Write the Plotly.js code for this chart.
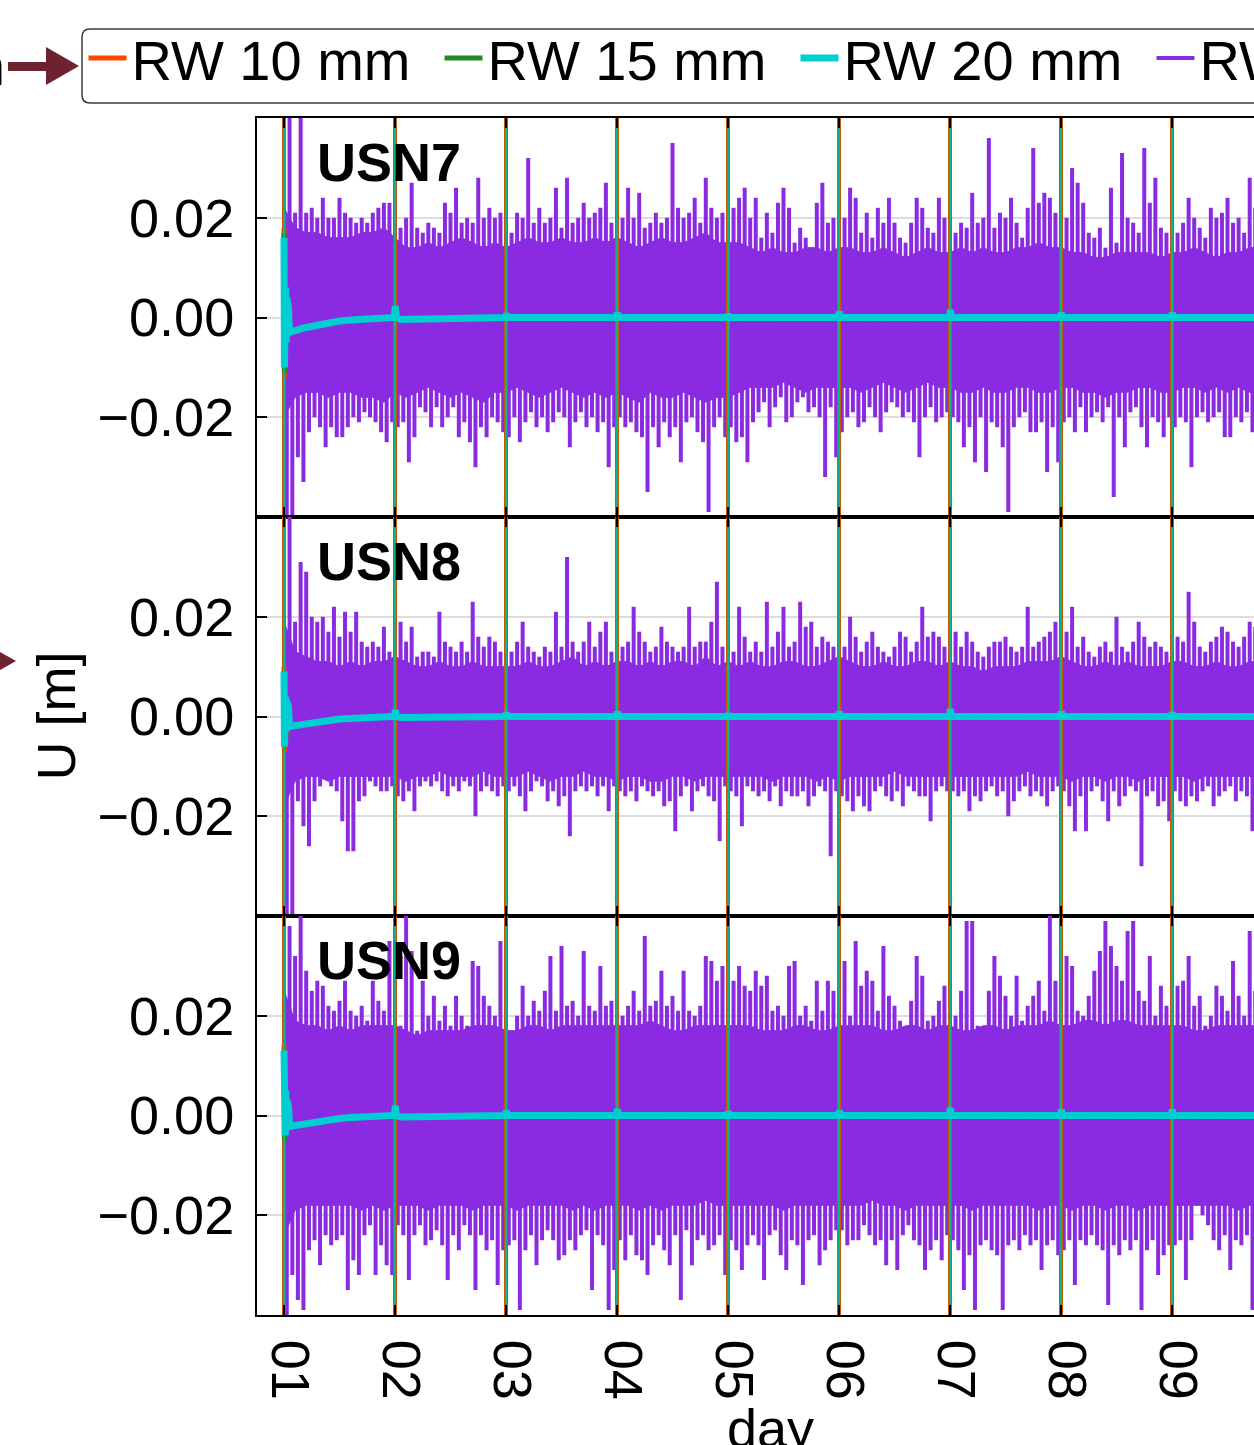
<!DOCTYPE html>
<html><head><meta charset="utf-8">
<script src="https://cdn.plot.ly/plotly-3.0.1.min.js"></script>
<style>
html,body{margin:0;padding:0;overflow:hidden;background:#fff;width:1254px;height:1445px}
#chart{width:1800px;height:1445px}
</style>
</head><body><div id="chart"></div>
<script>
// ---------------- data ----------------
const seriesNames = ['RW 10 mm', 'RW 15 mm', 'RW 20 mm', 'RW 25 mm'];
const stations = ['USN7', 'USN8', 'USN9'];
const dayTicks = [1, 2, 3, 4, 5, 6, 7, 8, 9];
const dayTickText = ['01', '02', '03', '04', '05', '06', '07', '08', '09'];
const yTicks = [-0.02, 0, 0.02];
const yTickText = ['\u22120.02', '0.00', '0.02'];
const spikeStart = 1.0, spikeStep = 0.05;  // sampling of the RW 25 mm spike extremes (days)
const bodyStart = 1.0, bodyStep = 0.1;     // sampling of the RW 25 mm dense body edge (days)

// RW 25 mm: largest upward / downward excursion per 0.05-day sample (mm)
const up7 = [45,42,21,40,21,22,20,24,20,20,24,21,20,19,20,19,21,22,23,23,
  20,18,20,27,18,17,19,18,17,23,21,26,19,20,19,28,20,22,20,21,
  18,17,21,20,32,19,22,19,20,26,18,28,19,20,23,20,21,22,27,19,
  19,20,26,20,25,18,19,21,19,20,35,22,20,21,24,19,28,22,20,21,
  19,22,24,26,20,24,16,21,17,23,26,22,15,18,16,14,23,27,19,20,
  18,20,26,24,17,21,16,22,19,24,19,16,15,19,24,22,18,17,24,20,
  20,17,19,18,25,19,20,36,18,21,20,24,19,16,22,34,23,25,24,21,
  22,20,30,27,23,17,16,18,14,26,15,33,20,19,17,34,23,28,18,17,
  20,17,19,24,20,18,16,22,20,21,24,19,20,17,28,22];
const lo7 = [-45,-40,-28,-33,-23,-20,-22,-26,-22,-24,-24,-22,-20,-21,-19,-20,-21,-23,-25,-21,
  -22,-21,-29,-24,-18,-19,-22,-18,-22,-20,-18,-24,-21,-25,-30,-22,-24,-20,-21,-23,
  -24,-20,-25,-21,-19,-22,-20,-23,-21,-19,-20,-26,-21,-19,-22,-20,-23,-21,-30,-22,
  -20,-22,-21,-23,-24,-35,-22,-26,-21,-24,-22,-29,-21,-20,-23,-25,-39,-22,-20,-24,
  -22,-25,-24,-29,-21,-19,-17,-22,-18,-16,-21,-20,-17,-16,-19,-18,-20,-32,-18,-28,
  -23,-20,-19,-22,-21,-18,-20,-23,-19,-17,-18,-20,-19,-21,-28,-20,-18,-21,-20,-19,
  -20,-21,-26,-22,-29,-20,-31,-21,-22,-26,-39,-22,-20,-19,-23,-23,-21,-31,-22,-29,
  -21,-20,-23,-18,-23,-20,-19,-21,-18,-36,-20,-26,-19,-18,-22,-26,-20,-21,-24,-20,
  -22,-20,-21,-30,-20,-19,-21,-20,-19,-24,-24,-20,-21,-19,-23,-21];
const up8 = [45,40,19,31,29,20,19,20,17,22,16,21,17,21,15,14,15,14,18,13,
  17,19,15,18,12,13,13,12,21,15,14,13,15,13,23,16,14,16,15,13,
  14,13,15,19,14,13,12,14,13,21,14,32,15,13,15,19,14,17,19,13,
  16,14,15,22,17,15,13,14,18,15,14,13,14,22,14,15,15,19,27,14,
  14,13,22,16,13,15,13,23,14,17,22,14,15,23,18,19,14,16,15,14,
  15,14,20,16,13,15,17,14,13,12,14,17,16,13,15,22,16,17,16,14,
  33,17,14,17,15,13,12,14,15,15,16,14,13,14,22,14,15,16,17,19,
  16,17,22,14,16,13,12,14,15,13,20,14,13,15,19,16,14,15,14,13,
  14,16,15,25,19,14,13,15,16,18,17,15,14,16,19,18];
const lo8 = [-45,-42,-17,-22,-26,-17,-14,-12,-14,-15,-21,-27,-27,-17,-16,-13,-14,-15,-15,-14,
  -16,-17,-15,-19,-14,-13,-14,-13,-15,-16,-14,-15,-13,-14,-20,-15,-14,-15,-16,-14,
  -15,-14,-16,-19,-15,-13,-14,-17,-15,-18,-16,-24,-15,-14,-15,-14,-16,-14,-19,-14,
  -15,-16,-15,-17,-14,-15,-16,-15,-18,-17,-23,-16,-14,-19,-15,-14,-16,-17,-25,-14,
  -15,-16,-22,-14,-15,-16,-15,-17,-14,-18,-15,-16,-16,-15,-18,-16,-14,-15,-28,-15,
  -16,-17,-19,-16,-18,-19,-15,-14,-16,-17,-15,-18,-14,-15,-16,-16,-21,-15,-14,-15,
  -15,-16,-15,-19,-16,-17,-15,-14,-16,-15,-20,-17,-15,-14,-16,-15,-16,-18,-15,-14,
  -15,-18,-23,-16,-23,-15,-14,-17,-21,-15,-18,-16,-14,-15,-30,-16,-15,-18,-17,-21,
  -15,-17,-18,-16,-17,-15,-14,-18,-16,-15,-14,-17,-15,-16,-23,-15];
const up9 = [45,38,32,40,29,25,27,26,22,21,23,27,21,20,22,19,27,23,21,35,
  23,18,40,33,17,27,20,24,19,22,18,24,20,18,31,30,24,22,20,35,
  18,17,20,26,20,23,21,25,32,21,34,22,23,20,33,22,21,30,22,23,
  35,20,22,25,21,36,22,23,29,22,24,21,29,21,20,22,32,31,27,30,
  29,27,30,26,25,29,26,28,21,22,20,30,31,20,22,19,27,21,27,25,
  22,31,20,35,26,29,27,21,34,24,22,19,17,23,32,28,19,20,23,26,
  30,20,25,39,39,18,16,25,32,28,24,20,28,19,22,24,27,21,40,27,
  22,32,30,21,20,24,29,33,39,34,30,27,37,39,25,23,32,20,26,22,
  23,26,27,32,22,24,18,20,26,24,21,31,24,20,37,25];
const lo9 = [-45,-32,-37,-39,-27,-25,-30,-24,-26,-25,-24,-35,-29,-32,-24,-22,-32,-26,-30,-32,
  -22,-24,-33,-24,-22,-26,-25,-23,-26,-33,-24,-27,-22,-24,-35,-24,-27,-25,-34,-27,
  -26,-25,-39,-27,-24,-30,-25,-23,-25,-29,-28,-25,-27,-24,-23,-35,-24,-26,-39,-31,
  -25,-29,-24,-28,-29,-32,-26,-24,-27,-30,-24,-37,-23,-30,-25,-24,-27,-26,-24,-32,
  -25,-27,-31,-26,-24,-26,-33,-24,-23,-28,-31,-25,-26,-34,-25,-24,-30,-27,-25,-23,
  -23,-26,-25,-25,-22,-24,-26,-25,-30,-25,-31,-24,-22,-25,-26,-31,-27,-25,-29,-24,
  -25,-27,-35,-28,-39,-26,-25,-27,-28,-39,-26,-25,-27,-24,-26,-25,-31,-26,-25,-28,
  -27,-25,-34,-25,-26,-24,-26,-27,-38,-26,-28,-25,-27,-25,-39,-27,-25,-32,-28,-26,
  -26,-25,-33,-25,-18,-20,-22,-25,-27,-24,-31,-25,-26,-24,-39,-26];

// RW 25 mm: edge of the dense (solid) part of the scatter per 0.1-day sample (mm)
const body7Up = [22,18,17,17,16,16,16,17,17,18, 16,14,14,15,14,15,16,15,14,15, 14,15,16,15,15,16,15,15,16,15,
  16,15,14,15,16,15,15,16,17,15, 15,15,14,13,14,13,13,14,14,13, 14,14,13,13,14,13,12,13,14,13,
  13,14,13,14,13,13,14,14,15,14, 14,13,13,12,12,13,13,13,13,12, 13,13,14,13,12,13,13,14,14];
const body7Lo = [-20,-16,-15,-15,-16,-15,-15,-16,-16,-17, -15,-16,-15,-14,-15,-16,-15,-16,-17,-15, -15,-14,-15,-16,-15,-14,-15,-16,-15,-16,
  -15,-16,-17,-15,-16,-16,-15,-16,-17,-16, -16,-15,-14,-14,-14,-13,-14,-15,-14,-14, -14,-14,-15,-14,-13,-14,-15,-14,-13,-14,
  -14,-15,-15,-14,-15,-15,-14,-14,-15,-15, -14,-14,-15,-15,-16,-15,-15,-14,-14,-15, -15,-14,-14,-15,-14,-15,-14,-15,-15];
const body8Up = [19,13,12,11,11,10,11,10,11,11, 12,11,10,10,11,10,10,11,10,10, 10,10,11,10,10,11,12,10,11,10,
  11,11,10,11,10,11,11,10,12,10, 11,10,11,10,10,11,11,10,10,11, 12,11,10,10,11,10,10,11,11,10,
  11,10,10,9,10,10,10,11,11,11, 12,11,10,10,11,10,11,10,10,10, 11,11,10,10,11,10,10,11,11];
const body8Lo = [-18,-13,-12,-12,-13,-12,-12,-12,-12,-12, -12,-13,-12,-12,-11,-12,-12,-12,-11,-12, -12,-12,-11,-12,-13,-12,-12,-11,-12,-12,
  -13,-12,-12,-13,-13,-12,-12,-13,-12,-12, -12,-12,-12,-12,-13,-12,-12,-12,-13,-12, -13,-12,-12,-12,-12,-11,-12,-12,-12,-12,
  -12,-12,-12,-12,-12,-12,-12,-11,-12,-12, -12,-13,-12,-12,-13,-12,-12,-13,-12,-12, -12,-12,-13,-12,-12,-12,-12,-12,-13];
const body9Up = [25,19,18,18,17,18,17,18,18,18, 18,17,16,17,17,17,17,18,18,18, 17,17,18,18,17,18,18,18,18,18,
  18,18,18,19,18,17,17,18,18,18, 18,18,18,17,17,17,18,18,17,17, 18,18,18,18,17,17,18,18,17,18,
  18,17,17,18,18,17,18,18,18,19, 18,18,19,19,18,19,19,18,18,18, 18,18,17,17,18,18,18,18,18];
const body9Lo = [-24,-19,-18,-18,-18,-18,-18,-19,-18,-19, -18,-18,-18,-19,-18,-18,-18,-19,-18,-18, -18,-19,-18,-18,-18,-18,-19,-18,-19,-18,
  -18,-18,-19,-18,-19,-18,-18,-18,-17,-18, -18,-18,-18,-18,-18,-19,-18,-18,-18,-18, -18,-18,-18,-17,-18,-18,-19,-18,-18,-18,
  -18,-18,-19,-18,-18,-18,-18,-18,-19,-18, -18,-19,-18,-18,-19,-18,-18,-19,-18,-18, -18,-18,-18,-18,-18,-18,-19,-18,-19];

// RW 20 mm: knots of the solution (days, mm)
const cyanX = [1.000,1.004,1.008,1.012,1.016,1.020,1.026,1.032,1.040,1.05,1.10,1.15,1.20,1.30,1.40,1.50,1.60,1.75,1.90,
  1.995,2.003,2.012,2.05,2.30,2.60, 2.995,3.003,3.012, 3.995,4.003,4.012, 4.995,5.003,5.012,
  5.995,6.003,6.012, 6.995,7.003,7.012, 7.995,8.003,8.012, 8.995,9.003,9.012, 9.9];
const cyan7 = [16,-10,9,-8,6,-5,4,-4,2,-3,-2.5,-2.3,-2,-1.5,-1.1,-0.7,-0.5,-0.2,0,
  0,2.3,0,-0.4,-0.3,0, 0,0.8,0, 0,1,0, 0,0.7,0, 0,1.2,0, 0,1.5,0, 0,1,0, 0,1,0, 0];
const cyan8 = [9,-6,6,-5,4,-3,3,-3,2,-2,-1.8,-1.7,-1.5,-1.1,-0.8,-0.5,-0.4,-0.2,0,
  0,1.3,0,-0.2,-0.2,0, 0,0.8,0, 0,1,0, 0,0.6,0, 0,1,0, 0,1.5,0, 0,1,0, 0,0.8,0, 0];
const cyan9 = [13,-4,8,-4,5,-3,3,-3,2,-2.2,-2,-1.8,-1.6,-1.2,-0.9,-0.6,-0.4,-0.2,0,
  0,2,0,-0.3,-0.2,0, 0,1,0, 0,1.3,0, 0,0.8,0, 0,1,0, 0,1.5,0, 0,1.2,0, 0,1.2,0, 0];

// RW 10 mm / RW 15 mm: knots (days, mm), nearly identical to RW 20 mm
const rwX = [1.000,1.004,1.008,1.012,1.020,1.05,1.20,1.50,1.90,9.9];
const rw10_7 = [18,-12,8,-6,-4,-3,-2,-0.7,0,0];
const rw15_7 = [17,-11,8,-7,-4,-3,-2,-0.7,0,0];
const rw10_8 = [10,-7,6,-5,-3,-2,-1.5,-0.5,0,0];
const rw15_8 = [9,-6,6,-5,-3,-2,-1.5,-0.5,0,0];
const rw10_9 = [14,-5,8,-4,-3,-2.2,-1.6,-0.6,0,0];
const rw15_9 = [13,-5,8,-4,-3,-2.2,-1.6,-0.6,0,0];

// filter re-initialisation at the start of each day (mm, beyond the axis range)
const resetDays = [1, 2, 3, 4, 5, 6, 7, 8, 9];
const resetSpan = [-60, 60];

// ---------------- styles / geometry ----------------
const COL = {rw10: '#FF4500', rw15: '#228B22', rw20: '#00CED1', rw25: '#8A2BE2'};
const FONT = 'Liberation Sans, Arial, Helvetica, sans-serif';
const L = 257, T = 118, PW = 1400, PH = 1197, W = 1800, H = 1445;
const DAYPX = 111, DAY1PX = 284;                     // day spacing and position of day 01
const xStart = 1 - (DAY1PX - L) / DAYPX, xEnd = 1 + (L + PW - DAY1PX) / DAYPX;
const px2x = px => (px - L) / PW;
const px2y = py => (T + PH - py) / PH;
const mm = v => v / 1000;

const panels = [
  {name: stations[0], up: up7, lo: lo7, bu: body7Up, bl: body7Lo, cyan: cyan7, r10: rw10_7, r15: rw15_7, xa: 'x', ya: 'y'},
  {name: stations[1], up: up8, lo: lo8, bu: body8Up, bl: body8Lo, cyan: cyan8, r10: rw10_8, r15: rw15_8, xa: 'x2', ya: 'y2'},
  {name: stations[2], up: up9, lo: lo9, bu: body9Up, bl: body9Lo, cyan: cyan9, r10: rw10_9, r15: rw15_9, xa: 'x3', ya: 'y3'}
];

const traces = [];
panels.forEach((p, k) => {
  const first = k === 0;
  // dense body as a filled polygon
  const bx = [], by = [];
  p.bu.forEach((v, i) => { bx.push(bodyStart + i * bodyStep); by.push(mm(v)); });
  for (let i = p.bl.length - 1; i >= 0; i--) { bx.push(bodyStart + i * bodyStep); by.push(mm(p.bl[i])); }
  traces.push({x: bx, y: by, xaxis: p.xa, yaxis: p.ya, type: 'scatter', mode: 'lines', fill: 'toself',
    fillcolor: COL.rw25, line: {width: 1, color: COL.rw25}, showlegend: false, hoverinfo: 'skip'});
  // spikes
  const sx = [], sy = [];
  p.up.forEach((v, i) => {
    const t = spikeStart + i * spikeStep;
    sx.push(t, t, null, t + spikeStep / 2, t + spikeStep / 2, null);
    sy.push(0, mm(v), null, 0, mm(p.lo[i]), null);
  });
  traces.push({x: sx, y: sy, xaxis: p.xa, yaxis: p.ya, type: 'scatter', mode: 'lines', name: seriesNames[3],
    line: {color: COL.rw25, width: 4}, legendgroup: 'rw25', legendrank: 4, showlegend: first, hoverinfo: 'skip'});
  // resets
  const rx = [], ry = [];
  resetDays.forEach(d => { rx.push(d, d, null); ry.push(mm(resetSpan[0]), mm(resetSpan[1]), null); });
  traces.push({x: rx, y: ry, xaxis: p.xa, yaxis: p.ya, type: 'scatter', mode: 'lines', line: {color: COL.rw25, width: 2, dash: '4px,2px'},
    legendgroup: 'rw25', showlegend: false, hoverinfo: 'skip'});
  // RW 10 / 15 / 20
  [[p.r10, rwX, COL.rw10, 0, 5, 4], [p.r15, rwX, COL.rw15, 1, 5, 2.5], [p.cyan, cyanX, COL.rw20, 2, 7, 1.2]].forEach(s => {
    const [vals, xs, col, idx, w, rw] = s;
    traces.push({x: xs, y: vals.map(mm), xaxis: p.xa, yaxis: p.ya, type: 'scatter', mode: 'lines', name: seriesNames[idx],
      line: {color: col, width: w}, legendgroup: 'g' + idx, legendrank: idx + 1, showlegend: first, hoverinfo: 'skip'});
    traces.push({x: rx, y: ry, xaxis: p.xa, yaxis: p.ya, type: 'scatter', mode: 'lines', line: {color: col, width: rw},
      legendgroup: 'g' + idx, showlegend: false, hoverinfo: 'skip'});
  });
});

// ---------------- layout ----------------
const GRID = 'rgba(120,120,120,0.25)';
const xCommon = {range: [xStart, xEnd], tickvals: dayTicks, ticktext: dayTickText, ticks: 'inside', ticklen: 10, tickwidth: 2,
  tickcolor: '#000', showline: true, linecolor: '#000', linewidth: 2, mirror: 'ticks', showgrid: true, gridcolor: GRID,
  gridwidth: 2, zeroline: false, showticklabels: false, layer: 'above traces', tickfont: {family: FONT, size: 54, color: '#000'}};
const yCommon = {range: [-0.04, 0.04], tickvals: yTicks, ticktext: yTickText, ticks: 'inside', ticklen: 10, tickwidth: 2,
  tickcolor: '#000', showline: true, linecolor: '#000', linewidth: 2, mirror: 'ticks', showgrid: true, gridcolor: GRID,
  gridwidth: 2, zeroline: false, layer: 'above traces', ticklabelstandoff: 10, tickfont: {family: FONT, size: 54, color: '#000'}};

// rounded legend frame (matplotlib style), px coordinates
const fr = {x0: 82, x1: 1720, y0: 29, y1: 103, r: 8};
const framePath = `M${px2x(fr.x0 + fr.r)},${px2y(fr.y0)} L${px2x(fr.x1 - fr.r)},${px2y(fr.y0)} Q${px2x(fr.x1)},${px2y(fr.y0)} ${px2x(fr.x1)},${px2y(fr.y0 + fr.r)} ` +
  `L${px2x(fr.x1)},${px2y(fr.y1 - fr.r)} Q${px2x(fr.x1)},${px2y(fr.y1)} ${px2x(fr.x1 - fr.r)},${px2y(fr.y1)} ` +
  `L${px2x(fr.x0 + fr.r)},${px2y(fr.y1)} Q${px2x(fr.x0)},${px2y(fr.y1)} ${px2x(fr.x0)},${px2y(fr.y1 - fr.r)} ` +
  `L${px2x(fr.x0)},${px2y(fr.y0 + fr.r)} Q${px2x(fr.x0)},${px2y(fr.y0)} ${px2x(fr.x0 + fr.r)},${px2y(fr.y0)} Z`;

const layout = {
  width: W, height: H, margin: {l: L, r: W - L - PW, t: T, b: H - T - PH, autoexpand: false},
  paper_bgcolor: '#fff', plot_bgcolor: '#fff',
  font: {family: FONT, size: 54, color: '#000'},
  showlegend: true,
  legend: {orientation: 'h', x: px2x(83.5), xanchor: 'left', y: px2y(15), yanchor: 'top', borderwidth: 0,
    bgcolor: 'rgba(0,0,0,0)', font: {family: FONT, size: 56, color: '#000'}, itemwidth: 38, entrywidth: 303, entrywidthmode: 'pixels',
    traceorder: 'normal'},
  xaxis: Object.assign({}, xCommon, {anchor: 'y'}),
  xaxis2: Object.assign({}, xCommon, {anchor: 'y2', matches: 'x'}),
  xaxis3: Object.assign({}, xCommon, {anchor: 'y3', matches: 'x', showticklabels: true, tickangle: 90, ticklabelstandoff: 12,
    ticklabelshift: 6}),
  yaxis: Object.assign({}, yCommon, {domain: [2 / 3, 1], anchor: 'x'}),
  yaxis2: Object.assign({}, yCommon, {domain: [1 / 3, 2 / 3], anchor: 'x2'}),
  yaxis3: Object.assign({}, yCommon, {domain: [0, 1 / 3], anchor: 'x3'}),
  annotations: panels.map(p => ({text: '<b>' + p.name + '</b>', xref: p.xa + ' domain', yref: p.ya + ' domain', x: px2x(315),
    y: 1, xanchor: 'left', yanchor: 'top', yshift: -12, showarrow: false, font: {family: FONT, size: 54, color: '#000'}}))
    .concat([
      {text: 'U [m]', xref: 'paper', yref: 'y2 domain', x: px2x(55), y: 0.5, xanchor: 'center', yanchor: 'middle', textangle: -90,
        showarrow: false, font: {family: FONT, size: 54, color: '#000'}},
      {text: 'day', xref: 'paper', yref: 'paper', x: px2x(770), y: px2y(1396), xanchor: 'center', yanchor: 'top',
        showarrow: false, font: {family: FONT, size: 54, color: '#000'}},
      {text: 'm', xref: 'paper', yref: 'paper', x: px2x(7), y: px2y(66), xanchor: 'right', yanchor: 'middle',
        showarrow: false, font: {family: FONT, size: 54, color: '#000'}}
    ]),
  shapes: [
    {type: 'path', xref: 'paper', yref: 'paper', layer: 'below', fillcolor: '#fff', line: {width: 1.5, color: '#3a3a3a'}, path: framePath},
    {type: 'path', xref: 'paper', yref: 'paper', layer: 'above', fillcolor: '#6e2230', line: {width: 0},
      path: `M${px2x(8)},${px2y(62)} L${px2x(46)},${px2y(62)} L${px2x(46)},${px2y(47)} L${px2x(79)},${px2y(66)} L${px2x(46)},${px2y(85)} L${px2x(46)},${px2y(71)} L${px2x(8)},${px2y(71)} Z`},
    {type: 'path', xref: 'paper', yref: 'paper', layer: 'above', fillcolor: '#6e2230', line: {width: 0},
      path: `M${px2x(-2)},${px2y(651)} L${px2x(16)},${px2y(661)} L${px2x(-2)},${px2y(671)} Z`}
  ]
};

Plotly.newPlot('chart', traces, layout, {staticPlot: true, responsive: false});
</script>
</body></html>
